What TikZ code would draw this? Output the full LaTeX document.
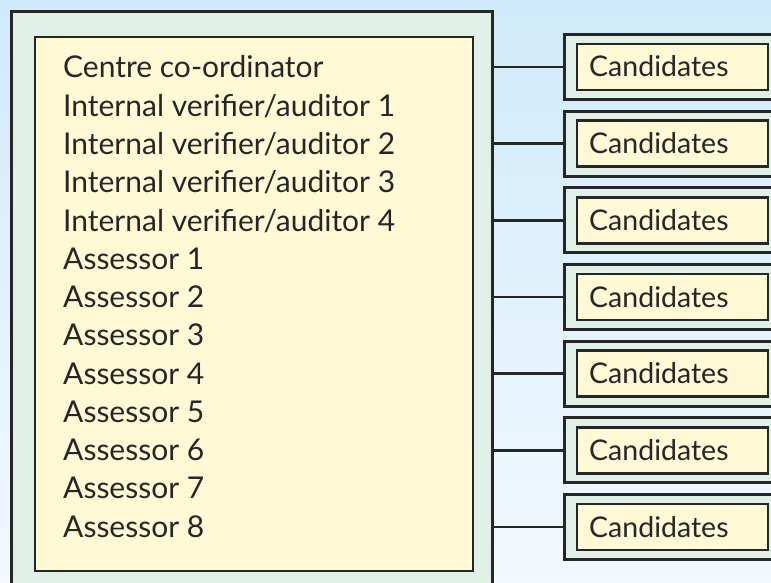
\documentclass[tikz,border=0pt]{standalone}
\usepackage{fontspec}
\setmainfont{Lato}
\definecolor{bgtop}{HTML}{CFEAFA}
\definecolor{bgbot}{HTML}{F3F9FE}
\definecolor{panel}{HTML}{E0F0E6}
\definecolor{paper}{HTML}{FFF9D6}
\definecolor{ink}{HTML}{262626}
\tikzset{
  framebox/.style={draw=ink, line width=3pt, fill=panel, inner sep=0pt},
  paperbox/.style={draw=ink, line width=2.6pt, fill=paper, inner sep=0pt},
  item/.style={anchor=base west, inner sep=0pt, text=ink, font=\fontsize{30}{34}\selectfont},
  canditem/.style={item, font=\fontsize{28.5}{32}\selectfont},
  link/.style={draw=ink, line width=2.6pt},
}
\begin{document}
\begin{tikzpicture}[x=1pt,y=-1pt]
\useasboundingbox (0,0) rectangle (771,583);
\clip (0,0) rectangle (771,583);
\shade[top color=bgtop, bottom color=bgbot] (0,0) rectangle (771,583);
% main frame
\node[framebox, minimum width=481pt, minimum height=598pt] (org) at (251.5,311) {};
\node[paperbox, minimum width=438pt, minimum height=534pt] (staff) at (254,304) {};
% staff list
\foreach \t [count=\i from 0] in {Centre co-ordinator,Internal verifier/auditor 1,Internal verifier/auditor 2,Internal verifier/auditor 3,Internal verifier/auditor 4,Assessor 1,Assessor 2,Assessor 3,Assessor 4,Assessor 5,Assessor 6,Assessor 7,Assessor 8}{
  \node[item] (t\i) at (63,78+38.25*\i) {\t};
}
% candidates
\foreach \k in {0,...,6}{
  \pgfmathsetmacro{\c}{67+76.67*\k}
  \node[framebox, minimum width=236pt, minimum height=65pt] (co\k) at (682,\c) {};
  \node[paperbox, minimum width=191pt, minimum height=46pt] (ci\k) at (672.5,\c) {};
  \node[canditem] (ct\k) at (589,\c+10) {Candidates};
  \draw[link] (org.east |- co\k.west) -- (co\k.west);
}
\end{tikzpicture}
\end{document}
